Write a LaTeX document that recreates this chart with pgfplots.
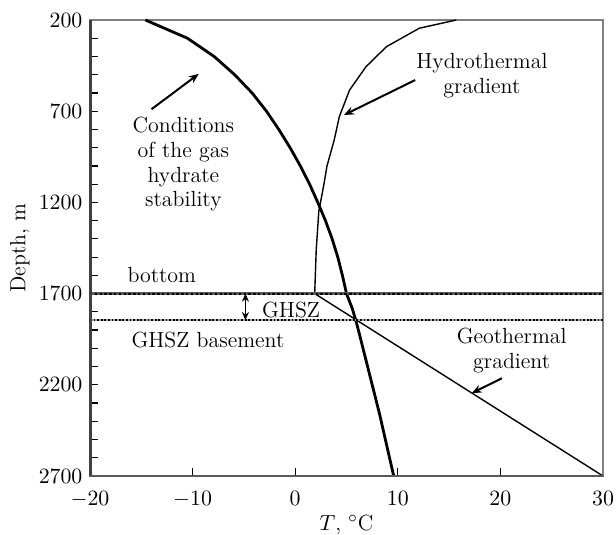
\documentclass[border=0pt]{standalone}
\usepackage{pgfplots}
\pgfplotsset{compat=1.18}
\usetikzlibrary{arrows.meta}
\begin{document}
\fontsize{11}{12.5}\selectfont
\begin{tikzpicture}
\begin{axis}[
  scale only axis,
  width=256.5bp, height=228bp,
  xmin=-20, xmax=30, ymin=200, ymax=2700,
  y dir=reverse,
  xtick={-20,-10,0,10,20,30},
  ytick={200,700,1200,1700,2200,2700},
  minor y tick num=4,
  xtick pos=bottom, ytick pos=left,
  tick align=inside,
  major tick length=4bp, minor tick length=4bp,
  tick style={black, line width=0.6bp},
  axis line style={black!50, line width=1.1bp},
  /pgf/number format/1000 sep={},
  yticklabel style={inner sep=1bp, xshift=-2.6bp},
  xticklabel style={inner sep=1bp, yshift=-6.6bp},
  xlabel={$T$, $^\circ$C},
  ylabel={Depth, m},
  xlabel style={at={(axis description cs:0.5,-0.1075)}, anchor=center},
  ylabel style={at={(axis description cs:-0.1365,0.5)}, anchor=center},
  clip=false,
]
% stability curve
\addplot[black, line width=1.4bp] coordinates {
(-14.6,200) (-10.5,300) (-7.9,400) (-5.9,500) (-4.2,600) (-2.8,700)
(-1.6,800) (-0.5,900) (0.5,1000) (1.4,1100) (2.2,1200) (2.95,1300)
(3.6,1400) (4.15,1500) (4.6,1600) (5.0,1700) (5.55,1780) (5.9,1845)
(6.25,1920) (7.1,2110) (8.2,2355) (9.6,2700)};
% hydrothermal gradient
\addplot[black, line width=0.7bp] coordinates {
(1.9,1700) (2.05,1460) (2.3,1250) (2.8,1100) (3.1,1000) (3.8,858)
(4.3,730) (5.3,584) (6.9,456) (8.9,346) (12.1,245) (15.7,200)};
% geothermal gradient
\addplot[black, line width=0.7bp] coordinates {(1.9,1700) (30,2700)};
% bottom line
\addplot[black!65, line width=1.6bp] coordinates {(-20,1700) (30,1700)};
\addplot[black, line width=1.0bp, dash pattern=on 1.2bp off 1.2bp] coordinates {(-20,1700) (30,1700)};
% GHSZ basement line
\addplot[black!35, line width=1.3bp] coordinates {(-20,1845) (30,1845)};
\addplot[black, line width=1.1bp, dash pattern=on 0.9bp off 0.9bp] coordinates {(-20,1845) (30,1845)};
% left and bottom spines darker
\draw[black!75, line width=1.5bp] (rel axis cs:0,0) -- (rel axis cs:0,1);
\draw[black!65, line width=1.3bp] (rel axis cs:0,0) -- (rel axis cs:1,0);
% annotations
\node[align=center] at (axis cs:-10.9,990) {Conditions\\of the gas\\hydrate\\stability};
\draw[-{Stealth[length=5bp,width=4bp]}, line width=1bp] (axis cs:-14.0,689) -- (axis cs:-9.4,495);
\node[align=center] at (axis cs:18.2,505) {Hydrothermal\\gradient};
\draw[-{Stealth[length=5bp,width=4bp]}, line width=1bp] (axis cs:11.7,529) -- (axis cs:4.75,721);
\node[align=center] at (axis cs:21.1,2013) {Geothermal\\gradient};
\draw[-{Stealth[length=5bp,width=4bp]}, line width=1bp] (axis cs:20.15,2164) -- (axis cs:17.2,2246);
\node at (axis cs:-13.0,1598) {bottom};
\node at (axis cs:-0.4,1790) {GHSZ};
\node at (axis cs:-8.5,1954) {GHSZ basement};
\draw[{Stealth[length=4bp,width=3.5bp]}-{Stealth[length=4bp,width=3.5bp]}, line width=0.9bp] (axis cs:-4.85,1700) -- (axis cs:-4.85,1845);
\coordinate (ll) at (rel axis cs:0,0);
\coordinate (ur) at (rel axis cs:1,1);
\end{axis}
\pgfresetboundingbox
\path ([shift={(-45bp,-29.5bp)}]ll) rectangle ([shift={(6.5bp,10bp)}]ur);
\end{tikzpicture}
\end{document}
